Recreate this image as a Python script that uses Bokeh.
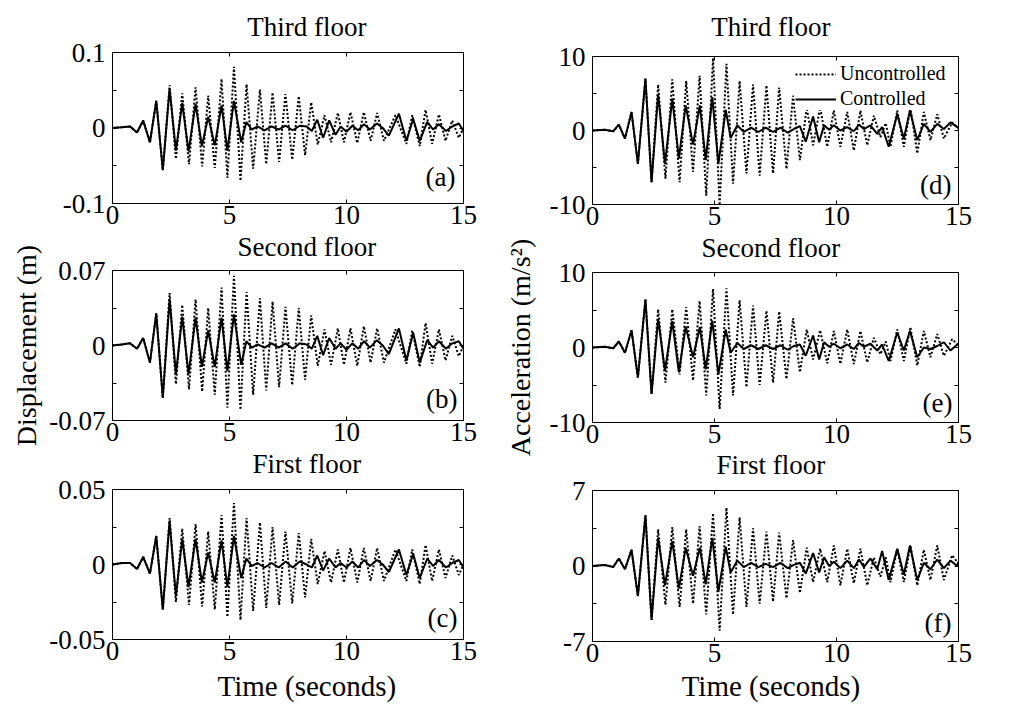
from bokeh.plotting import figure
from bokeh.layouts import row, column
from bokeh.models import Range1d, FixedTicker, LinearAxis, Label, Legend, LegendItem
from bokeh.embed import file_html
from bokeh.resources import INLINE

FONT = "Liberation Serif"

# ---------------- data (extrema) ----------------
t_disp_unc = [0.0, 0.4, 0.75, 1.05, 1.31, 1.60, 1.87, 2.15, 2.44, 2.71,
              2.98, 3.27, 3.55, 3.83, 4.09, 4.37, 4.66, 4.91, 5.19, 5.47,
              5.73, 6.01, 6.30, 6.57, 6.84, 7.12, 7.39, 7.68, 7.96, 8.23,
              8.49, 8.77, 9.06, 9.34, 9.63, 9.89, 10.17, 10.46, 10.74, 11.03,
              11.31, 11.60, 12.09, 12.56, 12.81, 13.13, 13.38, 13.66, 13.95, 14.23,
              14.52, 14.80, 15.0]
disp3_unc = [0.000, 0.001, 0.002, -0.006, 0.010, -0.019, 0.036, -0.056, 0.057, -0.041,
             0.046, -0.048, 0.054, -0.051, 0.043, -0.053, 0.065, -0.066, 0.081, -0.070,
             0.058, -0.054, 0.051, -0.048, 0.047, -0.045, 0.045, -0.042, 0.042, -0.036,
             0.034, -0.022, 0.017, -0.019, 0.020, -0.019, 0.021, -0.020, 0.021, -0.017,
             0.020, -0.017, 0.017, -0.021, 0.017, -0.024, 0.024, -0.021, 0.018, -0.017,
             0.010, -0.013, 0.000]
disp2_unc = [0.000, 0.001, 0.002, -0.003, 0.007, -0.016, 0.030, -0.049, 0.049, -0.036,
             0.038, -0.041, 0.043, -0.043, 0.035, -0.046, 0.054, -0.058, 0.065, -0.060,
             0.050, -0.046, 0.044, -0.042, 0.041, -0.039, 0.036, -0.037, 0.035, -0.032,
             0.028, -0.019, 0.015, -0.018, 0.016, -0.018, 0.016, -0.019, 0.018, -0.016,
             0.016, -0.016, 0.015, -0.017, 0.014, -0.020, 0.021, -0.017, 0.015, -0.014,
             0.009, -0.010, 0.000]
disp1_unc = [0.000, 0.001, 0.001, -0.003, 0.005, -0.006, 0.019, -0.030, 0.031, -0.025,
             0.024, -0.027, 0.027, -0.028, 0.022, -0.030, 0.033, -0.035, 0.041, -0.037,
             0.031, -0.031, 0.028, -0.029, 0.025, -0.027, 0.022, -0.026, 0.021, -0.022,
             0.017, -0.013, 0.009, -0.012, 0.010, -0.012, 0.011, -0.012, 0.011, -0.011,
             0.011, -0.011, 0.010, -0.011, 0.010, -0.013, 0.013, -0.011, 0.010, -0.009,
             0.006, -0.007, 0.000]

t_disp_con = [0.0, 0.4, 0.75, 1.05, 1.31, 1.60, 1.87, 2.15, 2.44, 2.71,
              2.98, 3.25, 3.55, 3.82, 4.09, 4.37, 4.66, 4.91, 5.19, 5.50,
              5.72, 5.95, 6.20, 6.50, 6.80, 7.10, 7.40, 7.70, 8.00, 8.30,
              8.52, 8.75, 9.00, 9.26, 9.53, 9.75, 10.00, 10.25, 10.50, 10.75,
              11.00, 11.30, 11.55, 11.81, 12.24, 12.56, 12.85, 13.13, 13.45, 13.70,
              13.95, 14.25, 14.52, 14.80, 15.0]
disp3_con = [0.000, 0.001, 0.002, -0.006, 0.010, -0.019, 0.036, -0.056, 0.052, -0.030,
             0.033, -0.031, 0.032, -0.024, 0.015, -0.023, 0.030, -0.030, 0.036, -0.019,
             0.008, -0.002, 0.002, -0.003, 0.002, -0.002, 0.003, -0.003, 0.003, 0.002,
             -0.004, 0.011, -0.013, 0.010, -0.009, 0.002, -0.005, 0.003, -0.003, 0.005,
             -0.002, 0.006, 0.000, -0.010, 0.019, -0.017, 0.012, -0.017, 0.008, -0.002,
             0.005, -0.004, 0.002, 0.006, -0.004]
disp2_con = [0.000, 0.001, 0.002, -0.003, 0.007, -0.016, 0.030, -0.049, 0.043, -0.027,
             0.027, -0.027, 0.026, -0.020, 0.014, -0.020, 0.026, -0.024, 0.029, -0.018,
             0.004, -0.002, 0.001, -0.002, 0.002, -0.002, 0.002, -0.003, 0.002, 0.001,
             -0.003, 0.009, -0.009, 0.007, -0.003, 0.002, -0.004, 0.002, -0.003, 0.004,
             -0.002, 0.005, 0.000, -0.008, 0.016, -0.014, 0.012, -0.016, 0.005, -0.002,
             0.004, -0.003, 0.002, 0.004, -0.003]
disp1_con = [0.000, 0.001, 0.001, -0.003, 0.005, -0.006, 0.019, -0.030, 0.029, -0.021,
             0.017, -0.015, 0.017, -0.012, 0.008, -0.012, 0.016, -0.015, 0.019, -0.009,
             0.004, -0.001, 0.001, -0.002, 0.001, -0.002, 0.002, -0.002, 0.002, 0.000,
             -0.002, 0.006, -0.004, 0.004, -0.002, 0.001, -0.002, 0.002, -0.002, 0.003,
             -0.001, 0.003, 0.000, -0.005, 0.010, -0.007, 0.007, -0.009, 0.004, -0.001,
             0.003, -0.002, 0.001, 0.003, -0.002]

t_acc_unc = [0.0, 0.5, 0.85, 1.08, 1.33, 1.60, 1.86, 2.17, 2.42, 2.69,
             2.99, 3.27, 3.57, 3.84, 4.12, 4.39, 4.66, 4.94, 5.21, 5.49,
             5.76, 6.03, 6.31, 6.58, 6.85, 7.13, 7.40, 7.65, 7.95, 8.22,
             8.50, 8.78, 9.04, 9.33, 9.62, 9.89, 10.16, 10.44, 10.71, 10.98,
             11.26, 11.53, 11.80, 12.02, 12.21, 12.49, 12.76, 13.03, 13.31, 13.58,
             13.85, 14.13, 14.40, 14.74, 15.0]
acc3_unc = [0.0, 0.1, -0.1, 0.8, -1.1, 2.5, -4.5, 7.0, -7.0, 6.2,
            -6.5, 6.9, -7.0, 6.7, -5.6, 7.4, -8.8, 9.8, -10.1, 9.0,
            -7.2, 6.7, -5.8, 6.2, -6.1, 6.1, -5.8, 5.8, -5.2, 4.7,
            -4.0, 3.1, -2.0, 3.1, -2.2, 2.7, -2.2, 2.5, -2.7, 2.7,
            -2.0, 2.0, -0.9, 1.0, -2.2, 2.7, -2.2, 3.1, -3.1, 2.5,
            -1.3, 2.2, -1.1, 1.1, 0.3]
acc2_unc = [0.0, 0.1, -0.1, 0.8, -0.7, 2.3, -4.0, 6.4, -6.2, 5.1,
            -4.7, 5.1, -3.6, 5.4, -4.4, 6.2, -6.4, 7.8, -8.2, 7.9,
            -6.4, 6.3, -5.3, 5.6, -5.0, 4.9, -4.7, 4.8, -4.2, 3.9,
            -3.3, 2.4, -1.6, 2.3, -2.1, 2.2, -2.2, 2.4, -2.2, 2.2,
            -2.0, 1.3, -0.9, 0.8, -1.8, 2.4, -1.8, 2.7, -2.4, 2.2,
            -1.3, 1.8, -1.1, 1.1, 0.3]
acc1_unc = [0.0, 0.1, -0.1, 0.7, -0.3, 1.5, -2.8, 4.7, -5.0, 3.4,
            -3.6, 3.6, -3.8, 3.4, -3.5, 3.7, -4.5, 4.9, -6.0, 5.4,
            -4.5, 4.5, -3.8, 3.5, -3.5, 3.2, -3.3, 3.1, -3.0, 2.4,
            -2.5, 1.7, -1.5, 1.6, -1.5, 1.9, -1.8, 1.6, -1.6, 1.6,
            -1.8, 0.8, -1.0, 0.8, -1.5, 1.6, -1.5, 1.9, -1.8, 1.5,
            -1.3, 1.9, -1.3, 1.0, 0.2]

t_acc_con = [0.0, 0.5, 0.85, 1.08, 1.33, 1.60, 1.86, 2.17, 2.42, 2.69,
             2.97, 3.27, 3.54, 3.82, 4.12, 4.40, 4.64, 4.91, 5.16, 5.46,
             5.66, 5.94, 6.20, 6.50, 6.80, 7.10, 7.40, 7.70, 8.00, 8.25,
             8.50, 8.74, 9.04, 9.29, 9.49, 9.70, 9.89, 10.16, 10.44, 10.71,
             10.92, 11.12, 11.39, 11.67, 11.87, 12.14, 12.49, 12.76, 13.01, 13.31,
             13.58, 13.85, 14.13, 14.40, 14.67, 14.95, 15.0]
acc3_con = [0.0, 0.1, -0.1, 0.8, -1.1, 2.5, -4.5, 7.0, -7.0, 4.9,
            -4.5, 4.3, -3.8, 3.4, -1.9, 3.4, -4.0, 4.5, -4.5, 2.8,
            -1.0, 0.7, -0.2, 0.4, -0.2, 0.4, -0.2, 0.4, -0.3, 0.2,
            0.6, -1.5, 1.9, -1.6, 0.7, 0.1, 0.7, 0.0, 0.45, -0.1,
            0.8, 0.2, 0.7, -0.45, 0.45, -2.2, 2.2, -1.1, 2.7, -1.3,
            0.9, -0.2, 0.9, 0.2, 1.1, 0.45, 0.4]
acc2_con = [0.0, 0.1, -0.1, 0.8, -0.7, 2.3, -4.0, 6.4, -6.2, 3.8,
            -3.1, 3.5, -3.3, 2.8, -1.3, 2.7, -2.9, 3.6, -3.6, 2.4,
            -0.7, 0.6, -0.2, 0.3, -0.2, 0.3, -0.2, 0.3, -0.3, 0.2,
            0.4, -1.1, 1.6, -1.6, 0.7, 0.1, 0.5, -0.1, 0.4, -0.2,
            0.6, 0.1, 0.5, -0.4, 0.4, -1.8, 2.0, -0.4, 2.2, -1.3,
            0.0, -0.2, 0.2, 0.7, -0.4, 0.4, 0.3]
acc1_con = [0.0, 0.1, -0.1, 0.7, -0.3, 1.5, -2.8, 4.7, -5.0, 2.6,
            -1.8, 2.3, -2.1, 1.7, -0.9, 1.7, -1.7, 2.6, -2.4, 1.8,
            -0.6, 0.5, -0.1, 0.3, -0.1, 0.2, -0.1, 0.3, -0.2, 0.1,
            0.3, -0.7, 1.2, -0.6, 0.8, 0.0, 0.4, -0.2, 0.5, -0.2,
            0.6, -0.1, 0.7, -0.3, 1.4, -1.3, 1.6, -0.8, 1.9, -1.3,
            0.3, -0.3, 0.6, -0.2, 0.5, 0.0, 0.4]

# axis ticks and tick labels
x_ticks = [0, 5, 10, 15]
yt_disp3 = [-0.1, -0.05, 0, 0.05, 0.1]
yl_disp3 = ["-0.1", "", "0", "", "0.1"]
yt_disp2 = [-0.07, -0.035, 0, 0.035, 0.07]
yl_disp2 = ["-0.07", "", "0", "", "0.07"]
yt_disp1 = [-0.05, -0.025, 0, 0.025, 0.05]
yl_disp1 = ["-0.05", "", "0", "", "0.05"]
yt_acc3 = [-10, -5, 0, 5, 10]
yl_acc3 = ["-10", "", "0", "", "10"]
yt_acc2 = [-10, -5, 0, 5, 10]
yl_acc2 = ["-10", "", "0", "", "10"]
yt_acc1 = [-7, -3.5, 0, 3.5, 7]
yl_acc1 = ["-7", "", "0", "", "7"]

titles = ["Third floor", "Second floor", "First floor"]
letters_left = ["(a)", "(b)", "(c)"]
letters_right = ["(d)", "(e)", "(f)"]
series_names = ["Uncontrolled", "Controlled"]
x_title = "Time (seconds)"
y_title_left = "Displacement (m)"
y_title_right = "Acceleration (m/s\u00b2)"

UNC_STYLE = dict(line_color="black", line_width=2.0, line_dash="2 2")
CON_STYLE = dict(line_color="black", line_width=2.0)


def style_axis(ax, labels=True, standoff=7):
    ax.axis_line_color = "black"
    ax.axis_line_width = 1
    ax.major_tick_in = 4
    ax.major_tick_out = 0
    ax.major_tick_line_color = "black"
    ax.minor_tick_line_color = None
    ax.major_label_text_font = FONT
    if labels:
        ax.major_label_text_color = "black"
        ax.major_label_text_font_size = "27px"
        ax.major_label_standoff = standoff
    else:
        ax.major_label_text_color = None
        ax.major_label_text_font_size = "0px"
        ax.major_label_standoff = 0


def panel(fw, fh, btop, bbot, bleft, bright, ylim, yticks, ylabels,
          tu, vu, tc, vc, letter, ldx, ldy):
    p = figure(frame_width=fw, frame_height=fh,
               min_border_top=btop, min_border_bottom=bbot,
               min_border_left=bleft, min_border_right=bright,
               x_range=Range1d(0, 15), y_range=Range1d(-ylim, ylim),
               x_axis_type=None, y_axis_type=None,
               output_backend="svg", toolbar_location=None)
    p.outline_line_color = None
    p.background_fill_color = "white"
    p.border_fill_color = "white"

    xb = LinearAxis(ticker=FixedTicker(ticks=x_ticks))
    style_axis(xb, True, 2)
    p.add_layout(xb, "below")
    xa = LinearAxis(ticker=FixedTicker(ticks=x_ticks))
    style_axis(xa, False)
    p.add_layout(xa, "above")
    yl = LinearAxis(ticker=FixedTicker(ticks=yticks),
                    major_label_overrides=dict(zip(yticks, ylabels)))
    style_axis(yl, True, 7)
    p.add_layout(yl, "left")
    yr = LinearAxis(ticker=FixedTicker(ticks=yticks))
    style_axis(yr, False)
    p.add_layout(yr, "right")

    ru = p.line(tu, vu, **UNC_STYLE)
    rc = p.line(tc, vc, **CON_STYLE)

    p.add_layout(Label(x=15, y=-ylim, x_offset=-ldx, y_offset=ldy, text=letter,
                       text_font=FONT, text_font_size="27px", text_color="black",
                       text_align="right", text_baseline="bottom"))
    return p, ru, rc


def strip(w, h, texts):
    """A plain text band: data units equal pixels (y measured from the bottom)."""
    f = figure(width=w, height=h, x_range=Range1d(0, w), y_range=Range1d(0, h),
               min_border=0, x_axis_type=None, y_axis_type=None,
               output_backend="svg", toolbar_location=None)
    f.outline_line_color = None
    f.background_fill_color = "white"
    f.border_fill_color = "white"
    for (x, y, text, size, angle) in texts:
        f.add_layout(Label(x=x, y=y, text=text, angle=angle, angle_units="deg",
                           text_font=FONT, text_font_size=size, text_color="black",
                           text_align="center",
                           text_baseline="middle" if angle else "bottom"))
    return f


LW, LL, LR = 351, 67, 20
RW, RL, RR = 366, 50, 62
LTOT = LL + LW + LR   # 438
RTOT = RL + RW + RR   # 478
LC = LL + LW / 2
RC = RL + RW / 2

# left column
sL1 = strip(LTOT, 36, [(LC, -5, titles[0], "27px", 0)])
pa, _, _ = panel(LW, 151, 16, 32, LL, LR, 0.1, yt_disp3, yl_disp3,
                 t_disp_unc, disp3_unc, t_disp_con, disp3_con, letters_left[0], 8, 12)
sL2 = strip(LTOT, 25, [(LC, -1, titles[1], "27px", 0)])
pb, _, _ = panel(LW, 150, 10, 32, LL, LR, 0.07, yt_disp2, yl_disp2,
                 t_disp_unc, disp2_unc, t_disp_con, disp2_con, letters_left[1], 6, 7)
sL3 = strip(LTOT, 27, [(LC, 1, titles[2], "27px", 0)])
pc, _, _ = panel(LW, 150, 10, 32, LL, LR, 0.05, yt_disp1, yl_disp1,
                 t_disp_unc, disp1_unc, t_disp_con, disp1_con, letters_left[2], 6, 7)
sL4 = strip(LTOT, 36, [(LC, 6, x_title, "29px", 0)])

# right column
sR1 = strip(RTOT, 47, [(RC, 6, titles[0], "27px", 0)])
pd, rdu, rdc = panel(RW, 148, 9, 32, RL, RR, 10, yt_acc3, yl_acc3,
                     t_acc_unc, acc3_unc, t_acc_con, acc3_con, letters_right[0], 7, 5)
legend = Legend(items=[LegendItem(label=series_names[0], renderers=[rdu]),
                       LegendItem(label=series_names[1], renderers=[rdc])],
                location=(203, 94), orientation="vertical",
                label_text_font=FONT, label_text_font_size="20px",
                label_text_color="black",
                glyph_width=41, glyph_height=20, label_height=20,
                label_standoff=4, spacing=2, padding=2, margin=0,
                border_line_color=None, background_fill_color="white",
                background_fill_alpha=1.0)
pd.add_layout(legend)
sR2 = strip(RTOT, 26, [(RC, 0, titles[1], "27px", 0)])
pe, _, _ = panel(RW, 150, 10, 32, RL, RR, 10, yt_acc2, yl_acc2,
                 t_acc_unc, acc2_unc, t_acc_con, acc2_con, letters_right[1], 6, 5)
sR3 = strip(RTOT, 26, [(RC, 1, titles[2], "27px", 0)])
pf, _, _ = panel(RW, 151, 10, 32, RL, RR, 7, yt_acc1, yl_acc1,
                 t_acc_unc, acc1_unc, t_acc_con, acc1_con, letters_right[2], 7, 4)
sR4 = strip(RTOT, 34, [(RC, 6, x_title, "29px", 0)])

# y-axis titles
yl_left = strip(45, 707, [(26, 707 - 345, y_title_left, "28px", 90)])
yl_right = strip(59, 707, [(37, 707 - 347, y_title_right, "28px", 90)])

layout = row(yl_left,
             column(sL1, pa, sL2, pb, sL3, pc, sL4),
             yl_right,
             column(sR1, pd, sR2, pe, sR3, pf, sR4))

open("out.html", "w").write(file_html(layout, INLINE))
